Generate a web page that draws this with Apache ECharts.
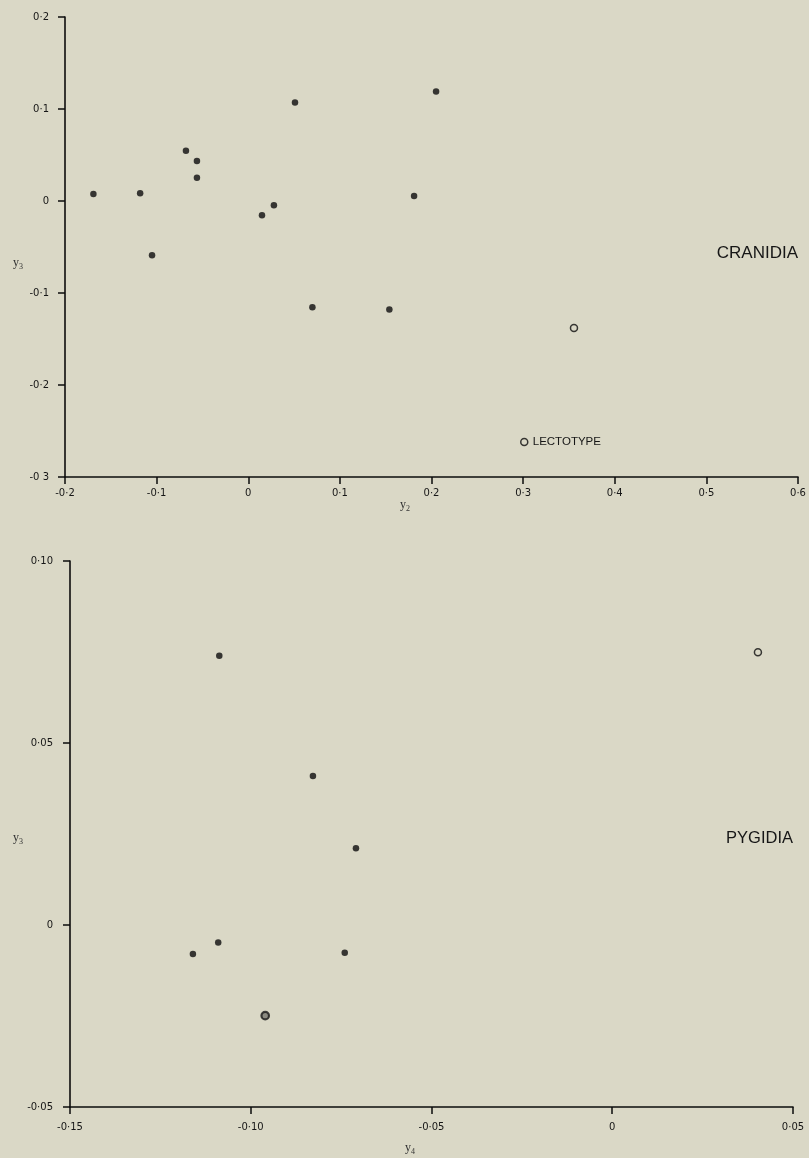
<!DOCTYPE html>
<html>
<head>
<meta charset="utf-8">
<script src="https://cdn.jsdelivr.net/npm/echarts@6/dist/echarts.min.js"></script>
<style>
html,body{margin:0;padding:0;background:#dad8c6;}
#c{width:809px;height:1158px;}
</style>
</head>
<body>
<div id="c"></div>
<script>
// ---- Data: CRANIDIA (y2 vs y3) ----
var cranidiaX = [-0.169, -0.118, -0.068, -0.056, -0.056, -0.105, 0.015, 0.028, 0.051, 0.070, 0.154, 0.181, 0.205];
var cranidiaY = [0.0076, 0.0084, 0.0547, 0.0435, 0.0253, -0.059, -0.0155, -0.0047, 0.107, -0.1155, -0.118, 0.0054, 0.119];
var cranidiaLectoX = [0.3555];
var cranidiaLectoY = [-0.138];

// ---- Data: PYGIDIA (y4 vs y3) ----
var pygidiaX = [-0.1087, -0.0828, -0.0709, -0.116, -0.109, -0.074];
var pygidiaY = [0.074, 0.0409, 0.0211, -0.0080, -0.0048, -0.0076];
var pygidiaRingX = [-0.096];
var pygidiaRingY = [-0.0249];
var pygidiaLectoX = [0.0403];
var pygidiaLectoY = [0.0749];

// ---- Tick labels ----
var topXTicks = ['-0·2', '-0·1', '0', '0·1', '0·2', '0·3', '0·4', '0·5', '0·6'];
var topYTicks = ['-0 3', '-0·2', '-0·1', '0', '0·1', '0·2'];
var botXTicks = ['-0·15', '-0·10', '-0·05', '0', '0·05'];
var botYTicks = ['-0·05', '0', '0·05', '0·10'];

function pairs(xs, ys) { return xs.map(function (x, i) { return [x, ys[i]]; }); }

var BG = '#dad8c6';
var INK = '#0d0d0d';
var tickFont = { fontFamily: 'DejaVu Sans', fontSize: 10, color: '#161616' };

function axisBase(extra) {
  var a = {
    type: 'value',
    splitLine: { show: false },
    axisLine: { show: true, onZero: false, lineStyle: { color: INK, width: 1.6 } },
    axisTick: { show: true, inside: false, length: 7, lineStyle: { color: INK, width: 1.5 } }
  };
  for (var k in extra) a[k] = extra[k];
  return a;
}

var chart = echarts.init(document.getElementById('c'), null, { renderer: 'canvas' });
chart.setOption({
  backgroundColor: BG,
  animation: false,
  grid: [
    { left: 65, right: 11, top: 17, bottom: 681, containLabel: false, outerBoundsMode: 'none' },
    { left: 70, right: 16, top: 561, bottom: 51, containLabel: false, outerBoundsMode: 'none' }
  ],
  xAxis: [
    axisBase({ gridIndex: 0, min: -0.2, max: 0.6, interval: 0.1,
      axisLabel: Object.assign({ margin: 11, formatter: function (v, i) { return topXTicks[i]; } }, tickFont) }),
    axisBase({ gridIndex: 1, min: -0.15, max: 0.05, interval: 0.05,
      axisLabel: Object.assign({ margin: 15, formatter: function (v, i) { return botXTicks[i]; } }, tickFont) })
  ],
  yAxis: [
    axisBase({ gridIndex: 0, min: -0.3, max: 0.2, interval: 0.1,
      axisLabel: Object.assign({ margin: 16, formatter: function (v, i) { return topYTicks[i]; } }, tickFont) }),
    axisBase({ gridIndex: 1, min: -0.05, max: 0.10, interval: 0.05,
      axisLabel: Object.assign({ margin: 17, formatter: function (v, i) { return botYTicks[i]; } }, tickFont) })
  ],
  legend: {
    data: ['LECTOTYPE'],
    left: 520, top: 436, padding: 0,
    icon: 'circle', itemWidth: 7, itemHeight: 7,
    itemStyle: { color: BG, borderColor: INK, borderWidth: 1.5 },
    textStyle: { fontFamily: 'Liberation Sans', fontSize: 11.5, color: '#161616' },
    selectedMode: false
  },
  series: [
    { type: 'scatter', name: 'Cranidia', xAxisIndex: 0, yAxisIndex: 0, symbolSize: 6.5,
      itemStyle: { color: INK }, data: pairs(cranidiaX, cranidiaY) },
    { type: 'scatter', name: 'LECTOTYPE', xAxisIndex: 0, yAxisIndex: 0, symbolSize: 7,
      itemStyle: { color: BG, borderColor: INK, borderWidth: 1.5 }, data: pairs(cranidiaLectoX, cranidiaLectoY) },
    { type: 'scatter', name: 'Pygidia', xAxisIndex: 1, yAxisIndex: 1, symbolSize: 6.5,
      itemStyle: { color: INK }, data: pairs(pygidiaX, pygidiaY) },
    { type: 'scatter', name: 'Pygidia ring', xAxisIndex: 1, yAxisIndex: 1, symbolSize: 7.5,
      itemStyle: { color: '#77776e', borderColor: '#161616', borderWidth: 2.2 }, data: pairs(pygidiaRingX, pygidiaRingY) },
    { type: 'scatter', name: 'LECTOTYPE', xAxisIndex: 1, yAxisIndex: 1, symbolSize: 7,
      itemStyle: { color: BG, borderColor: INK, borderWidth: 1.5 }, data: pairs(pygidiaLectoX, pygidiaLectoY) }
  ],
  graphic: [
    { type: 'text', right: 11, top: 245, style: { text: 'CRANIDIA', font: '17px "Liberation Sans"', fill: '#161616' } },
    { type: 'text', right: 16, top: 830, style: { text: 'PYGIDIA', font: '16.5px "Liberation Sans"', fill: '#161616' } },
    // axis names with subscripts
    { type: 'text', left: 13, top: 257, style: { text: 'y', font: '12px "Liberation Serif"', fill: '#333' } },
    { type: 'text', left: 19, top: 263, style: { text: '3', font: '8px "Liberation Serif"', fill: '#333' } },
    { type: 'text', left: 13, top: 832, style: { text: 'y', font: '12px "Liberation Serif"', fill: '#333' } },
    { type: 'text', left: 19, top: 838, style: { text: '3', font: '8px "Liberation Serif"', fill: '#333' } },
    { type: 'text', left: 400, top: 499, style: { text: 'y', font: '12px "Liberation Serif"', fill: '#333' } },
    { type: 'text', left: 406, top: 505, style: { text: '2', font: '8px "Liberation Serif"', fill: '#333' } },
    { type: 'text', left: 405, top: 1142, style: { text: 'y', font: '12px "Liberation Serif"', fill: '#333' } },
    { type: 'text', left: 411, top: 1148, style: { text: '4', font: '8px "Liberation Serif"', fill: '#333' } }
  ]
});
</script>
</body>
</html>
